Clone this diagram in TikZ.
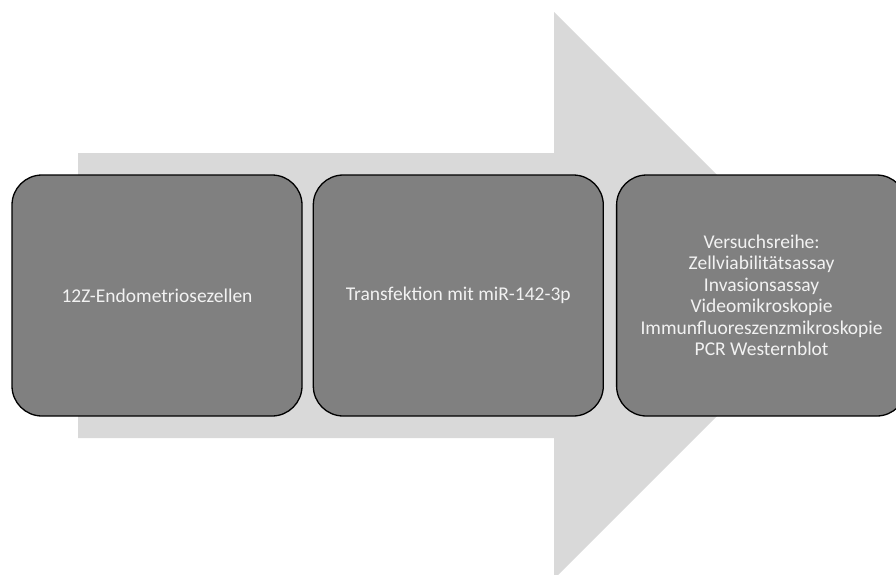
\documentclass[tikz,border=0pt]{standalone}
\usepackage{fontspec}
\setmainfont{Carlito}
\usepackage{tikz}
\usetikzlibrary{positioning}
\definecolor{arrowgray}{HTML}{D9D9D9}
\definecolor{boxgray}{HTML}{808080}
\definecolor{boxtext}{HTML}{F2F2F2}

\begin{document}
\begin{tikzpicture}[x=1pt,y=-1pt,node distance=10pt,
  step box/.style={rectangle,draw=black,line width=1.3pt,fill=boxgray,
    rounded corners=30pt,minimum width=290pt,minimum height=241pt,
    text=boxtext,align=center,font=\fontsize{19.5}{21.5}\selectfont}]

  \useasboundingbox (0,0) rectangle (896,574);
  \clip (0,0) rectangle (896,574);

  \fill[arrowgray] (78,153) -- (554,153) -- (554,12) -- (837.5,295.5)
    -- (554,579) -- (554,438) -- (78,438) -- cycle;

  \node[step box] (cells) at (157,295.5) {12Z-Endometriosezellen};
  \node[step box] (transf) [right=of cells] {Transfektion mit miR-142-3p};
  \node[step box] (tests) [right=12pt of transf] {Versuchsreihe:\\
    Zellviabilitätsassay\\ Invasionsassay\\ Videomikroskopie\\
    Immunfluoreszenzmikroskopie\\ PCR Westernblot};
\end{tikzpicture}
\end{document}
